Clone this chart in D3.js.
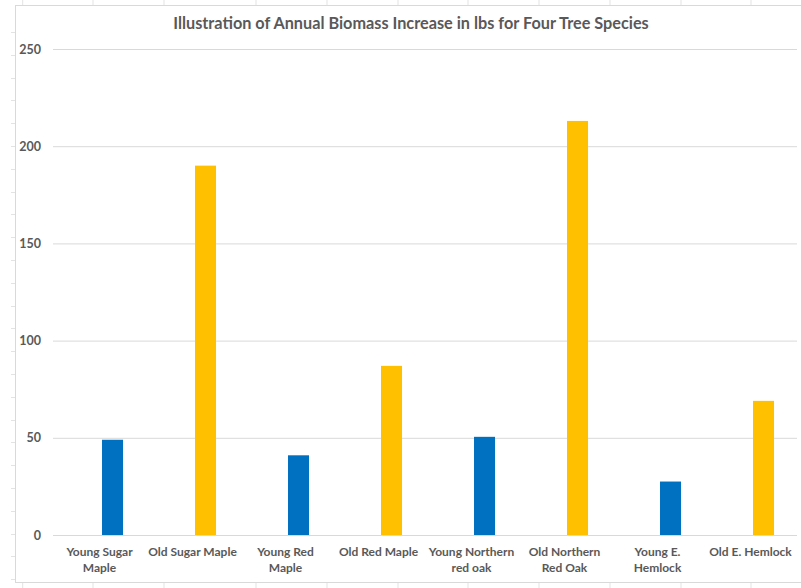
<!DOCTYPE html>
<html>
<head>
<meta charset="utf-8">
<script src="https://cdn.jsdelivr.net/npm/d3@7"></script>
<style>
  html, body { margin: 0; padding: 0; background: #fff; }
  svg { display: block; }
</style>
</head>
<body>
<svg id="chart" width="801" height="588"></svg>
<script>
// ---- data ----
const categories = ["Young Sugar Maple", "Old Sugar Maple", "Young Red Maple", "Old Red Maple",
                    "Young Northern red oak", "Old Northern Red Oak", "Young E. Hemlock", "Old E. Hemlock"];
const tickLabelLines = [["Young Sugar", "Maple"], ["Old Sugar Maple"], ["Young Red", "Maple"], ["Old Red Maple"],
                        ["Young Northern", "red oak"], ["Old Northern", "Red Oak"], ["Young E.", "Hemlock"], ["Old E. Hemlock"]];
const ageGroup = ["Young", "Old", "Young", "Old", "Young", "Old", "Young", "Old"];
const biomassValues = [49, 190, 41, 87, 50.5, 213, 27.5, 69];
const yTicks = [0, 50, 100, 150, 200, 250];
const titleText = "Illustration of Annual Biomass Increase in lbs for Four Tree Species";

// ---- layout ----
const svg = d3.select("#chart");
const font = "Lato, 'Open Sans', sans-serif";
const textColor = "#595959";
const plot = { left: 53, right: 797, top: 49, bottom: 535 };

// spreadsheet background cells (faint)
const colLines = [22.7, 93, 164, 256, 327, 398, 468, 539, 610, 681, 751];
const bg = svg.append("g").attr("stroke", "#e3e3e3").attr("stroke-width", 1);
colLines.forEach(x => {
  bg.append("line").attr("x1", x).attr("x2", x).attr("y1", 0).attr("y2", 5);
  bg.append("line").attr("x1", x).attr("x2", x).attr("y1", 583).attr("y2", 588);
});
for (let y = 32; y < 583; y += 22.8) {
  bg.append("line").attr("x1", 11).attr("x2", 15).attr("y1", Math.round(y) + 0.5).attr("y2", Math.round(y) + 0.5);
}

// chart area
svg.append("rect").attr("x", 15.5).attr("y", 5.5).attr("width", 800).attr("height", 577)
  .attr("fill", "#fff").attr("stroke", "#d9d9d9").attr("stroke-width", 1);

const x = d3.scaleBand().domain(categories).range([plot.left, plot.right]).paddingInner(0).paddingOuter(0);
const y = d3.scaleLinear().domain([0, 250]).range([plot.bottom, plot.top]);
const color = d3.scaleOrdinal().domain(["Young", "Old"]).range(["#0070C0", "#FFC000"]);

// gridlines + y labels
const yAxis = d3.axisLeft(y).tickValues(yTicks).tickSize(-(plot.right - plot.left)).tickPadding(12).tickFormat(d3.format("d"));
const yg = svg.append("g").attr("transform", `translate(${plot.left},0)`).call(yAxis);
yg.select(".domain").remove();
yg.selectAll(".tick line").attr("stroke", "#d9d9d9").attr("stroke-width", 1);
yg.selectAll(".tick text").attr("fill", textColor).attr("font-family", font)
  .attr("font-weight", "bold").attr("font-size", 12.5);

// bars
const bw = x.bandwidth();
svg.append("g").selectAll("rect").data(categories).join("rect")
  .attr("x", (d) => x(d) + bw * 0.527)
  .attr("width", bw * 0.226)
  .attr("y", (d, i) => y(biomassValues[i]))
  .attr("height", (d, i) => y(0) - y(biomassValues[i]))
  .attr("fill", (d, i) => color(ageGroup[i]));

// x labels
const xg = svg.append("g");
categories.forEach((c, i) => {
  const t = xg.append("text").attr("text-anchor", "middle").attr("fill", textColor)
    .attr("font-family", font).attr("font-weight", "bold").attr("font-size", 12);
  tickLabelLines[i].forEach((ln, k) => {
    t.append("tspan").attr("x", x(c) + bw / 2).attr("y", 555.5 + k * 16).text(ln);
  });
});

// title
const title = svg.append("text").attr("x", 411).attr("y", 28.5).attr("text-anchor", "middle")
  .attr("fill", textColor).attr("font-family", font).attr("font-weight", "bold").attr("font-size", 17)
  .text(titleText);
const tw = title.node().getComputedTextLength();
title.attr("font-size", 17 * 476 / tw);
</script>
</body>
</html>
